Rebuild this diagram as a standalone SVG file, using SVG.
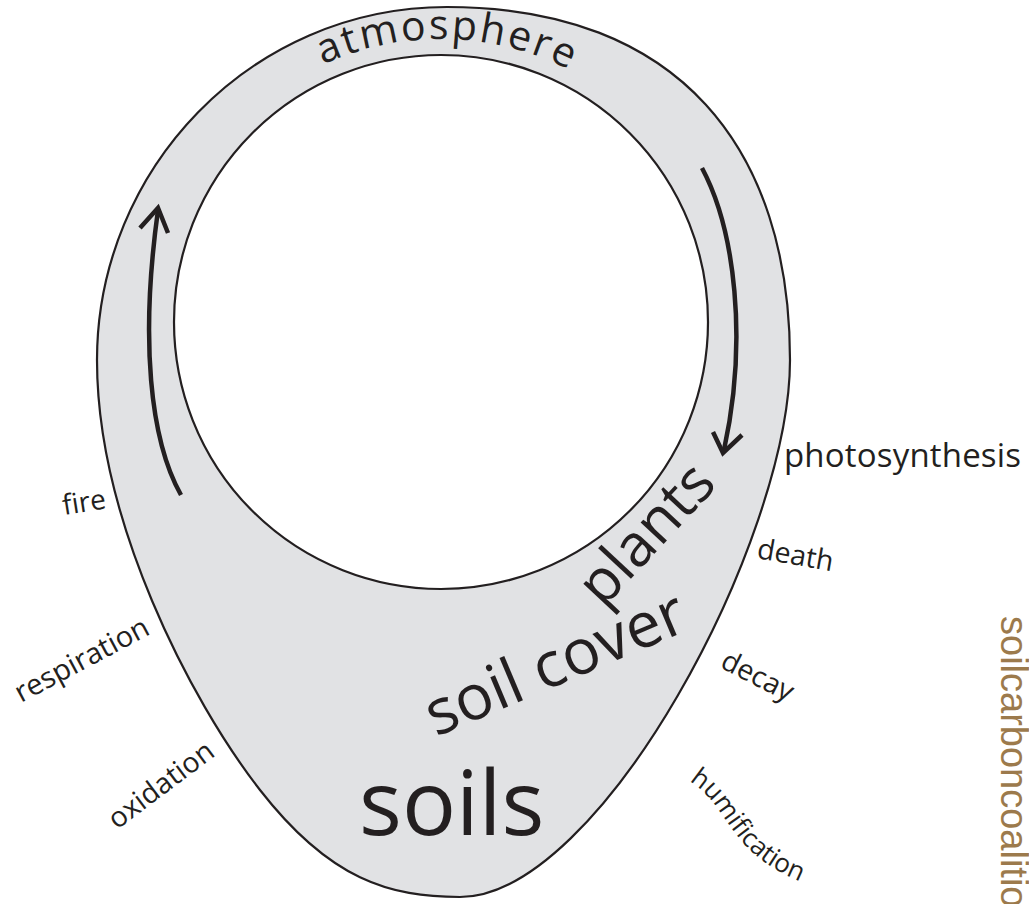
<svg xmlns="http://www.w3.org/2000/svg" width="1029" height="904" viewBox="0 0 1029 904">
  <style>
    .shape { fill: #e1e2e4; stroke: #231f20; stroke-width: 2.2; }
    .hole { fill: #ffffff; stroke: #231f20; stroke-width: 2.2; }
    .arrow { fill: none; stroke: #231f20; stroke-width: 4.5; stroke-linecap: butt; stroke-linejoin: miter; }
    .lbl { font-family: "Open Sans", "DejaVu Sans", sans-serif; fill: #231f20; }
    .url { font-family: "Liberation Sans", Arial, sans-serif; fill: #9c7a4c; }
  </style>
  <defs>
    <path id="atmArc" d="M158,322 A283,283 0 0 1 724,322"/>
    <path id="humPath" d="M689,781 C730,806 726,850 797,880"/>
  </defs>
  <rect width="1029" height="904" fill="#ffffff"/>

  <g id="cycle-body">
    <path class="shape" d="M447,7 C680,7 790,150 790,360 C790,540 600,897 460,897 C390,897 330,880 260,790 C190,700 97,520 97,360 C97,170 250,7 447,7 Z"/>
    <circle class="hole" cx="441" cy="322" r="267"/>
  </g>

  <g id="connectors">
    <path class="arrow" d="M181,495 C150,440 140,340 158,210"/>
    <path class="arrow" d="M140,228 L158,208 L168,233"/>
    <path class="arrow" d="M702,168 C735,230 748,340 724,450"/>
    <path class="arrow" d="M713,432 L723,453 L742,435"/>
  </g>

  <g id="atmosphere">
    <text class="lbl" font-size="41" letter-spacing="2.4" text-anchor="middle"><textPath href="#atmArc" startOffset="451">atmosphere</textPath></text>
  </g>
  <g id="plants">
    <text class="lbl" font-size="59" transform="translate(603,609) rotate(-47)">plants</text>
  </g>
  <g id="soil-cover">
    <text class="lbl" font-size="63" transform="translate(436,737) rotate(-23)">soil cover</text>
  </g>
  <g id="soils">
    <text class="lbl" font-size="90" x="359" y="835">soils</text>
  </g>

  <g id="photosynthesis">
    <text class="lbl" font-size="33" x="784" y="467" textLength="237">photosynthesis</text>
  </g>
  <g id="death">
    <text class="lbl" font-size="28.5" transform="translate(756,558) rotate(10)">death</text>
  </g>
  <g id="decay">
    <text class="lbl" font-size="28.5" transform="translate(719,667) rotate(27)">decay</text>
  </g>
  <g id="humification">
    <text class="lbl" font-size="26"><textPath href="#humPath">humification</textPath></text>
  </g>

  <g id="fire">
    <text class="lbl" font-size="28" transform="translate(64,515) rotate(-9)">fire</text>
  </g>
  <g id="respiration">
    <text class="lbl" font-size="29" transform="translate(21,703) rotate(-28)">respiration</text>
  </g>
  <g id="oxidation">
    <text class="lbl" font-size="28.5" transform="translate(117,830) rotate(-37)">oxidation</text>
  </g>

  <g id="website">
    <text class="url" font-size="38" transform="translate(1001,616) rotate(90)">soilcarboncoalition</text>
  </g>
</svg>
